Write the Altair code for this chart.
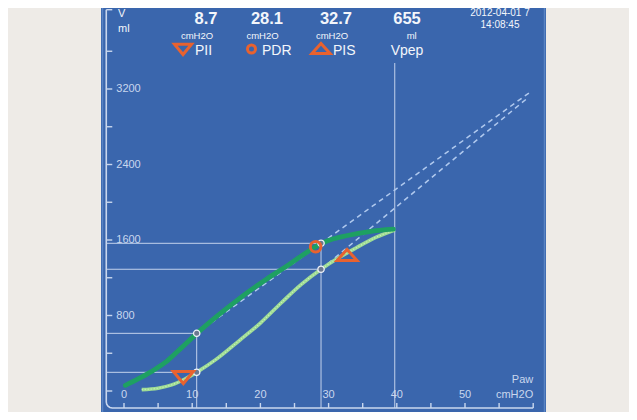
import math
import altair as alt
import pandas as pd

# ---------------- values ----------------
header_values = ["8.7", "28.1", "32.7", "655"]
header_units = ["cmH2O", "cmH2O", "cmH2O", "ml"]
legend_labels = ["PII", "PDR", "PIS", "Vpep"]
stamp_lines = ["2012-04-01 7", "14:08:45"]
y_title = ["V", "ml"]
x_title = ["Paw", "cmH2O"]

x_ticks = list(range(0, 61, 5))
x_labels = [0, 10, 20, 30, 40, 50]
y_ticks = list(range(0, 3601, 400))
y_labels = [800, 1600, 2400, 3200]

# inspiratory limb (dark green) and expiratory limb (light green): Paw cmH2O, V ml
insp_paw = [0.2, 2.0, 4.0, 6.0, 8.0, 10.7, 13.6, 17.0, 21.0, 24.0, 26.0, 28.9, 30.6, 32.6, 36.0, 39.5]
insp_vol = [60, 125, 205, 300, 430, 611, 790, 985, 1190, 1330, 1430, 1562, 1610, 1645, 1690, 1715]
exp_paw = [2.6, 5.0, 7.0, 9.0, 10.7, 13.6, 17.0, 20.0, 23.0, 26.0, 28.9, 31.0, 34.0, 37.0, 39.7]
exp_vol = [15, 30, 65, 130, 200, 340, 540, 720, 930, 1130, 1290, 1390, 1515, 1630, 1706]

# PII, PDR, PIS markers
marker_paw = [8.7, 28.1, 32.7]
marker_vol = [148, 1529, 1436]

# knee points with their guide lines
knee_paw = [10.66, 28.89]
knee_vol_insp = [611, 1565]
knee_vol_exp = [198, 1290]
vpep_paw = [39.7]

# dashed extrapolations
fit_paw_insp = [10.66, 59.8]
fit_vol_insp = [611, 3180]
fit_paw_exp = [28.89, 59.05]
fit_vol_exp = [1290, 3097]

axis_paw = -2.6
axis_vol = -180
axis_top = 4040

# ---------------- layout ----------------
W, H = 621, 404
PX, PY = 6.82, 0.094375          # pixels per cmH2O, per ml
OX, OY = 116, 383                 # pixel position of (0, 0)
XMIN, XMAX = -OX / PX, (W - OX) / PX
YMIN, YMAX = -(H - OY) / PY, OY / PY

BLUE = "#3a66ad"
FRAME = "#5a84c4"
AXC = "#c9d7ee"
GUIDE = "#c3d2ec"
DASH = "#b0c9ee"
DARK = "#1ea062"
LIGHT = "#9fdc95"
ORANGE = "#e8622f"
TXT = "#f3f6fb"
REG = "Liberation Sans, Arial, sans-serif"

xs = alt.Scale(domain=[XMIN, XMAX], nice=False, zero=False)
ys = alt.Scale(domain=[YMIN, YMAX], nice=False, zero=False)


def qx(f):
    return alt.X(f, type="quantitative", scale=xs, axis=None)


def qy(f):
    return alt.Y(f, type="quantitative", scale=ys, axis=None)


one = pd.DataFrame({"k": [0]})
base = alt.Chart(one)

layers = []

# panel
layers.append(base.mark_rect(color=BLUE).encode(
    x=alt.value(93), x2=alt.value(538), y=alt.value(0), y2=alt.value(H)))
for fx in (94.5, 536.5):
    layers.append(base.mark_rule(color=FRAME, strokeWidth=1.5).encode(
        x=alt.value(fx), y=alt.value(0), y2=alt.value(H)))

# guide lines
vdf = pd.DataFrame({"paw": knee_paw, "v0": [axis_vol] * 2, "v1": knee_vol_insp})
layers.append(alt.Chart(vdf).mark_rule(color=GUIDE, strokeWidth=1).encode(
    x=qx("paw"), y=qy("v0"), y2=alt.Y2("v1")))
hdf = pd.DataFrame({"vol": knee_vol_insp + knee_vol_exp, "p0": [axis_paw] * 4,
                    "p1": knee_paw + knee_paw})
layers.append(alt.Chart(hdf).mark_rule(color=GUIDE, strokeWidth=1).encode(
    y=qy("vol"), x=qx("p0"), x2=alt.X2("p1")))
vp = pd.DataFrame({"paw": vpep_paw, "v0": [axis_vol]})
layers.append(alt.Chart(vp).mark_rule(color=GUIDE, strokeWidth=1).encode(
    x=qx("paw"), y=qy("v0"), y2=alt.value(55)))

# axis line with rounded corner
rx, ry = 6 / PX, 6 / PY
cx, cy = axis_paw + rx, axis_vol + ry
pts = [(axis_paw, axis_top)]
for a in [180, 202.5, 225, 247.5, 270]:
    t = math.radians(a)
    pts.append((cx + rx * math.cos(t), cy + ry * math.sin(t)))
pts.append((60, axis_vol))
adf = pd.DataFrame({"i": range(len(pts)), "paw": [p[0] for p in pts], "vol": [p[1] for p in pts]})
layers.append(alt.Chart(adf).mark_line(color=AXC, strokeWidth=1.6).encode(
    x=qx("paw"), y=qy("vol"), order="i:Q"))

# ticks
xt = pd.DataFrame({"paw": x_ticks, "v0": [axis_vol] * len(x_ticks),
                   "v1": [axis_vol + 5 / PY] * len(x_ticks)})
layers.append(alt.Chart(xt).mark_rule(color=AXC, strokeWidth=1.4).encode(
    x=qx("paw"), y=qy("v0"), y2=alt.Y2("v1")))
yt_vals = y_ticks + [axis_top]
yt = pd.DataFrame({"vol": yt_vals, "p0": [axis_paw] * len(yt_vals),
                   "p1": [axis_paw + 6 / PX] * len(yt_vals)})
layers.append(alt.Chart(yt).mark_rule(color=AXC, strokeWidth=1.4).encode(
    y=qy("vol"), x=qx("p0"), x2=alt.X2("p1")))

# tick labels
yl = pd.DataFrame({"vol": y_labels, "paw": [axis_paw] * len(y_labels),
                   "txt": [str(v) for v in y_labels]})
layers.append(alt.Chart(yl).mark_text(align="left", baseline="middle", dx=10, font=REG,
                                      fontSize=11, color=AXC).encode(
    x=qx("paw"), y=qy("vol"), text="txt:N"))
xl = pd.DataFrame({"paw": x_labels, "txt": [str(v) for v in x_labels]})
layers.append(alt.Chart(xl).mark_text(align="center", baseline="middle", font=REG,
                                      fontSize=11, color=AXC).encode(
    x=qx("paw"), y=alt.value(387), text="txt:N"))
for txt, yy in zip(x_title, (372, 387)):
    layers.append(base.mark_text(align="right", baseline="middle", font=REG, fontSize=11,
                                 color=AXC).encode(
        x=alt.X(datum=60, type="quantitative", scale=xs, axis=None), y=alt.value(yy),
        text=alt.value(txt)))

# dashed extrapolations
ddf = pd.DataFrame({"seg": ["a", "a", "b", "b"], "paw": fit_paw_insp + fit_paw_exp,
                    "vol": fit_vol_insp + fit_vol_exp})
layers.append(alt.Chart(ddf).mark_line(color=DASH, strokeWidth=1.5, strokeDash=[5, 4]).encode(
    x=qx("paw"), y=qy("vol"), detail="seg:N"))

# curves
edf = pd.DataFrame({"i": range(len(exp_paw)), "paw": exp_paw, "vol": exp_vol})
layers.append(alt.Chart(edf).mark_line(color=LIGHT, strokeWidth=3.6, interpolate="monotone").encode(
    x=qx("paw"), y=qy("vol"), order="i:Q"))
layers.append(alt.Chart(edf).mark_line(color="#cdf3bd", strokeWidth=1.2, strokeDash=[1, 2],
                                       interpolate="monotone").encode(
    x=qx("paw"), y=qy("vol"), order="i:Q"))
idf = pd.DataFrame({"i": range(len(insp_paw)), "paw": insp_paw, "vol": insp_vol})
layers.append(alt.Chart(idf).mark_line(color=DARK, strokeWidth=4.8, interpolate="monotone",
                                       strokeCap="round").encode(
    x=qx("paw"), y=qy("vol"), order="i:Q"))

# knee junction circles
jdf = pd.DataFrame({"paw": knee_paw + knee_paw, "vol": knee_vol_insp + knee_vol_exp})
layers.append(alt.Chart(jdf).mark_point(shape="circle", filled=True, fill="#6b7890",
                                        stroke="#eef2fa", strokeWidth=1.3, size=40,
                                        opacity=1).encode(
    x=qx("paw"), y=qy("vol")))

# markers
TRI_DOWN = "M-1,-0.55L1,-0.55L0,0.65Z"
TRI_UP = "M0,-0.6L1,0.5L-1,0.5Z"
shapes = [(TRI_DOWN, 400), ("circle", 113), (TRI_UP, 400)]
for i, (shp, sz) in enumerate(shapes):
    mdf = pd.DataFrame({"paw": [marker_paw[i]], "vol": [marker_vol[i]]})
    layers.append(alt.Chart(mdf).mark_point(shape=shp, size=sz, filled=False, color=ORANGE,
                                            strokeWidth=3, opacity=1).encode(
        x=qx("paw"), y=qy("vol")))

# header
for txt, yy in zip(y_title, (9, 24)):
    layers.append(base.mark_text(align="left", baseline="alphabetic", font=REG, fontSize=11,
                                 color=TXT).encode(
        x=alt.value(110), y=alt.value(yy), text=alt.value(txt)))
for txt, px in zip(header_values, (198, 259, 328, 399)):
    layers.append(base.mark_text(align="center", baseline="alphabetic", font=REG, fontSize=16.5,
                                 fontWeight="bold", color=TXT).encode(
        x=alt.value(px), y=alt.value(16), text=alt.value(txt)))
for txt, px in zip(header_units, (189, 254.5, 324, 403.7)):
    layers.append(base.mark_text(align="center", baseline="alphabetic", font=REG, fontSize=9.5,
                                 color=TXT).encode(
        x=alt.value(px), y=alt.value(30.5), text=alt.value(txt)))
for txt, px, al in zip(legend_labels, (187, 254, 325, 399), ("left", "left", "left", "center")):
    layers.append(base.mark_text(align=al, baseline="alphabetic", font=REG, fontSize=14,
                                 color=TXT).encode(
        x=alt.value(px), y=alt.value(47), text=alt.value(txt)))
for (shp, sz), px in zip([(TRI_DOWN, 290), ("circle", 64), (TRI_UP, 330)], (175, 243.5, 313)):
    layers.append(base.mark_point(shape=shp, size=sz, filled=False, color=ORANGE, strokeWidth=3,
                                  opacity=1).encode(
        x=alt.value(px), y=alt.value(41)))
for txt, yy in zip(stamp_lines, (8, 19.5)):
    layers.append(base.mark_text(align="center", baseline="alphabetic", font=REG, fontSize=10,
                                 color=TXT).encode(
        x=alt.value(492), y=alt.value(yy), text=alt.value(txt)))

chart = alt.layer(*layers).properties(
    width=W, height=H, padding=0,
    autosize=alt.AutoSizeParams(type="none"),
).configure(background="#eeebe7").configure_view(stroke=None)

chart.save("out.html", embed_options={"renderer": "svg", "actions": False})
